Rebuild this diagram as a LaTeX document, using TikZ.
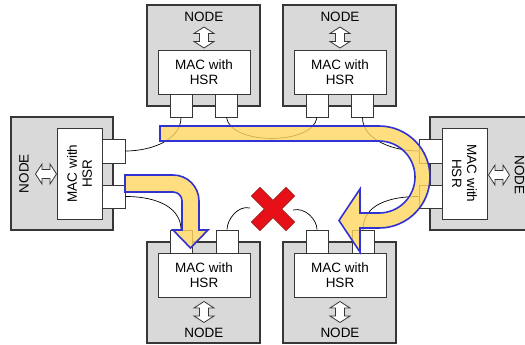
\documentclass[tikz,border=0pt]{standalone}
\usepackage{fontspec}
\setmainfont{Liberation Sans}
\definecolor{graybox}{RGB}{217,217,217}
\definecolor{edge}{RGB}{55,55,55}
\definecolor{flowblue}{RGB}{50,50,210}
\definecolor{flowyellow}{RGB}{255,214,96}
\definecolor{xred}{RGB}{232,16,24}
\definecolor{xdark}{RGB}{170,20,20}
\begin{document}
\begin{tikzpicture}[x=1pt,y=-1pt,
  nodebox/.style={draw=edge, fill=graybox, line width=1.1pt, inner sep=0pt, minimum width=113pt, minimum height=101pt},
  macbox/.style={draw=edge, fill=white, line width=0.9pt, inner sep=0pt, align=center, font=\fontsize{13.5}{15}\selectfont},
  portbox/.style={draw=edge, fill=white, line width=0.9pt, inner sep=0pt, minimum width=22pt, minimum height=23pt},
  lbl/.style={font=\fontsize{13.5}{15}\selectfont, inner sep=0pt},
  cable/.style={draw=black, line width=0.7pt},
  flow/.style={draw=flowblue, line width=1.6pt, fill=flowyellow, fill opacity=0.8, line join=miter},
  dblarrow/.style={draw=edge, fill=white, line width=0.8pt, line join=miter},
  dbl/.pic={\draw[dblarrow] (0,-10.5) -- (10,-4) -- (4.5,-4) -- (4.5,4) -- (10,4) -- (0,10.5) -- (-10,4) -- (-4.5,4) -- (-4.5,-4) -- (-10,-4) -- cycle;}
]
\useasboundingbox (0,0) rectangle (525,345);
\begin{scope}
\clip (0,0) rectangle (525,345);
% node boxes
\node[nodebox] (gTL) at (203.5,55.5) {};
\node[nodebox] (gTR) at (339.5,55.5) {};
\node[nodebox] (gBL) at (203.5,292.5) {};
\node[nodebox] (gBR) at (339.5,292.5) {};
\node[nodebox, minimum width=102pt, minimum height=113pt] (gL) at (62,173.5) {};
\node[nodebox, minimum width=97pt, minimum height=113pt] (gR) at (478.5,173.5) {};
% MAC boxes
\node[macbox, minimum width=92pt, minimum height=44pt] (mTL) at (204,72) {MAC with\\HSR};
\node[macbox, minimum width=92pt, minimum height=44pt] (mTR) at (340,72) {MAC with\\HSR};
\node[macbox, minimum width=92pt, minimum height=44pt] (mBL) at (204,275.5) {MAC with\\HSR};
\node[macbox, minimum width=92pt, minimum height=44pt] (mBR) at (340,275.5) {MAC with\\HSR};
\node[macbox, minimum width=91pt, minimum height=45pt, rotate=90] (mL) at (79.5,173.5) {MAC with\\HSR};
\node[macbox, minimum width=91pt, minimum height=45pt, rotate=-90] (mR) at (464.5,173.5) {MAC with\\HSR};
% ports
\node[portbox] (pTL1) at (181,105.5) {};
\node[portbox] (pTL2) at (226.5,105.5) {};
\node[portbox] (pTR1) at (317,105.5) {};
\node[portbox] (pTR2) at (362.5,105.5) {};
\node[portbox] (pBL1) at (181,241.5) {};
\node[portbox] (pBL2) at (227,241.5) {};
\node[portbox] (pBR1) at (317,241.5) {};
\node[portbox] (pBR2) at (363,241.5) {};
\node[portbox, minimum width=23pt, minimum height=24pt] (pL1) at (113.5,151) {};
\node[portbox, minimum width=23pt, minimum height=23pt] (pL2) at (113.5,196.5) {};
\node[portbox, minimum width=23pt, minimum height=24pt] (pR1) at (430.5,151) {};
\node[portbox, minimum width=23pt, minimum height=23pt] (pR2) at (430.5,196.5) {};
% NODE labels
\node[lbl] (tTL) at (204,17) {NODE};
\node[lbl] (tTR) at (340,17) {NODE};
\node[lbl] (tBL) at (204,333) {NODE};
\node[lbl] (tBR) at (340,333) {NODE};
\node[lbl, rotate=90] (tL) at (24,173.5) {NODE};
\node[lbl, rotate=-90] (tR) at (519.5,175) {NODE};
% double arrows
\pic at (204,37.5) {dbl};
\pic at (340,37.5) {dbl};
\pic at (204,312) {dbl};
\pic at (340,312) {dbl};
\pic[rotate=90] at (46,174) {dbl};
\pic[rotate=90] at (499,175) {dbl};
% cables
\coordinate (e1) at (250,208);
\coordinate (e2) at (293,210);
\draw[cable] (pTL1.south) .. controls +(0,23) and +(25,0) .. (pL1.east);
\draw[cable] (pTL2.south) .. controls +(4,28) and +(-4,28) .. (pTR1.south);
\draw[cable] (pTR2.south) .. controls +(0,23) and +(-24,0) .. (pR1.west);
\draw[cable] (pR2.west) .. controls +(-29,0) and +(0,-25) .. (pBR2.north);
\draw[cable] (pBR1.north) .. controls +(0,-10) and +(12,-3) .. (e2);
\draw[cable] (pBL2.north) .. controls +(0,-10) and +(-12,-3) .. (e1);
\draw[cable] (pL2.east) .. controls +(35,0) and +(0,-20) .. (pBL1.north);
% flow arrows
\draw[flow] (160,126) -- (379,126) .. controls (407.2,126) and (430,148.8) .. (430,177)
  .. controls (430,205.2) and (407.2,228) .. (379,228) -- (360,228) -- (360,252) -- (339,220.5)
  -- (360,189) -- (360,213) -- (379,213) .. controls (398.9,213) and (415,196.9) .. (415,177)
  .. controls (415,157.1) and (398.9,141) .. (379,141) -- (160,141) -- cycle;
\draw[flow] (125,175) -- (173,175) .. controls (187.4,175) and (199,186.6) .. (199,201)
  -- (199,230) -- (208,230) -- (190.5,248) -- (173,230) -- (182,230) -- (182,201)
  .. controls (182,196) and (178,192) .. (173,192) -- (125,192) -- cycle;
% red cross
\begin{scope}[shift={(273,209)}, rotate=45]
\draw[fill=xred, draw=xdark, line width=0.8pt, line join=miter]
  (6,6) -- (24.5,6) -- (24.5,-6) -- (6,-6) -- (6,-24.5) -- (-6,-24.5) -- (-6,-6)
  -- (-24.5,-6) -- (-24.5,6) -- (-6,6) -- (-6,24.5) -- (6,24.5) -- cycle;
\end{scope}
\end{scope}
\end{tikzpicture}
\end{document}
